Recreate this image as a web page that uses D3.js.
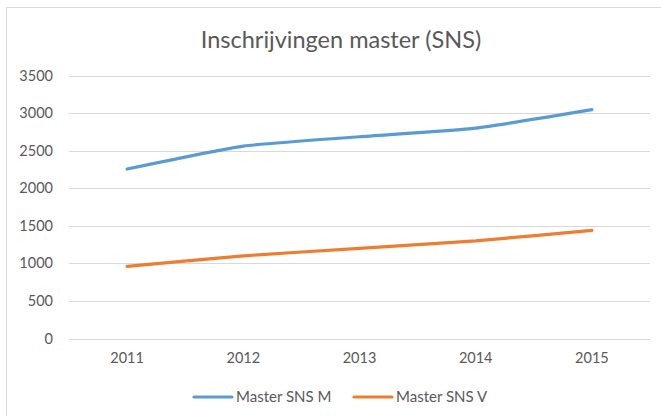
<!DOCTYPE html>
<html><head><meta charset="utf-8">
<script src="https://cdn.jsdelivr.net/npm/d3@7"></script>
<style>body{margin:0;background:#fff;} text{font-family:Lato,"Open Sans",sans-serif;fill:#595959;}</style>
</head><body>
<svg id="c" width="661" height="416"></svg>
<script>
const years = ["2011","2012","2013","2014","2015"];
const seriesM = [2255, 2560, 2685, 2800, 3045];
const seriesV = [960, 1100, 1200, 1300, 1440];
const seriesNames = ["Master SNS M", "Master SNS V"];
const yTicks = [0,500,1000,1500,2000,2500,3000,3500];
const title = "Inschrijvingen master (SNS)";

const svg = d3.select("#c");
svg.append("path").attr("d","M6.5,416 V7.5 H661").attr("fill","none").attr("stroke","#d9d9d9").attr("stroke-width",1);

const x = d3.scalePoint().domain(years).range([69,650]).padding(0.5);
const y = d3.scaleLinear().domain([0,3500]).range([338.5,75.5]);

svg.append("text").attr("x",341).attr("y",48).attr("text-anchor","middle").attr("font-size",23.5).text(title);

const g = svg.append("g");
g.selectAll("line.grid").data(yTicks).join("line")
  .attr("x1",69).attr("x2",650).attr("y1",d=>Math.round(y(d))+0.5).attr("y2",d=>Math.round(y(d))+0.5)
  .attr("stroke","#d9d9d9").attr("stroke-width",1);
g.selectAll("text.yl").data(yTicks).join("text")
  .attr("x",53).attr("y",d=>y(d)).attr("dy","0.35em").attr("text-anchor","end").attr("font-size",14.5).text(d=>d);
g.selectAll("text.xl").data(years).join("text")
  .attr("x",d=>x(d)).attr("y",358).attr("dy","0.35em").attr("text-anchor","middle").attr("font-size",14.5).text(d=>d);

const colors = ["#5b9bd5","#ed7d31"];
const line = d3.line().x((d,i)=>x(years[i])).y(d=>y(d)).curve(d3.curveCardinal.tension(0.5));
[seriesM, seriesV].forEach((s,i)=>{
  svg.append("path").attr("d",line(s)).attr("fill","none").attr("stroke",colors[i]).attr("stroke-width",3.2).attr("stroke-linecap","round");
});

const legX = [194, 354];
seriesNames.forEach((n,i)=>{
  svg.append("line").attr("x1",legX[i]).attr("x2",legX[i]+38).attr("y1",397).attr("y2",397).attr("stroke",colors[i]).attr("stroke-width",3.2).attr("stroke-linecap","round");
  svg.append("text").attr("x",legX[i]+42).attr("y",397).attr("dy","0.35em").attr("font-size",15).text(n);
});
</script>
</body></html>
